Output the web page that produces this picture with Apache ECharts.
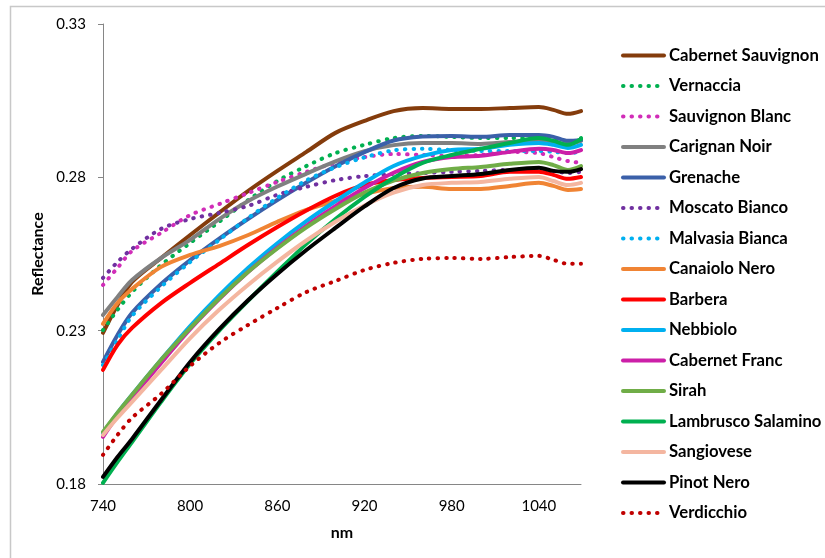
<!DOCTYPE html>
<html>
<head>
<meta charset="utf-8">
<script src="https://cdn.jsdelivr.net/npm/echarts@6/dist/echarts.min.js"></script>
<style>
html,body{margin:0;padding:0;background:#fff;}
#chart{width:825px;height:558px;}
</style>
</head>
<body>
<div id="chart"></div>
<script>
// Wavelength (nm) sample positions
const wavelengths = [740,750,760,780,800,820,840,860,880,900,920,940,960,980,1000,1020,1040,1050,1060,1069];

// Reflectance values
const cabernetSauvignon = [0.2293,0.2384,0.2459,0.2537,0.2612,0.2685,0.2756,0.2821,0.2883,0.2945,0.2984,0.3016,0.3026,0.3023,0.3023,0.3026,0.3029,0.3020,0.3007,0.3016];
const vernaccia        = [0.2302,0.2368,0.2426,0.2514,0.2586,0.2655,0.2726,0.2788,0.2837,0.2879,0.2906,0.2928,0.2935,0.2932,0.2928,0.2928,0.2928,0.2922,0.2915,0.2928];
const sauvignonBlanc   = [0.2449,0.2505,0.2560,0.2619,0.2677,0.2713,0.2749,0.2785,0.2818,0.2847,0.2866,0.2876,0.2873,0.2870,0.2873,0.2883,0.2879,0.2866,0.2853,0.2847];
const carignanNoir     = [0.2351,0.2410,0.2465,0.2537,0.2596,0.2664,0.2723,0.2770,0.2812,0.2852,0.2885,0.2905,0.2912,0.2912,0.2909,0.2915,0.2919,0.2915,0.2909,0.2919];
const grenache         = [0.2198,0.2286,0.2358,0.2452,0.2530,0.2600,0.2665,0.2726,0.2783,0.2836,0.2882,0.2920,0.2933,0.2935,0.2932,0.2938,0.2938,0.2932,0.2919,0.2922];
const moscatoBianco    = [0.2472,0.2524,0.2567,0.2632,0.2664,0.2684,0.2707,0.2743,0.2769,0.2791,0.2804,0.2811,0.2814,0.2818,0.2821,0.2824,0.2824,0.2821,0.2814,0.2818];
const malvasiaBianca   = [0.2188,0.2270,0.2348,0.2443,0.2524,0.2596,0.2668,0.2733,0.2790,0.2833,0.2865,0.2888,0.2893,0.2889,0.2886,0.2886,0.2886,0.2883,0.2879,0.2883];
const canaioloNero     = [0.2322,0.2390,0.2436,0.2508,0.2547,0.2576,0.2612,0.2655,0.2694,0.2723,0.2746,0.2765,0.2769,0.2762,0.2762,0.2772,0.2782,0.2772,0.2759,0.2762];
const barbera          = [0.2172,0.2254,0.2309,0.2390,0.2456,0.2518,0.2580,0.2638,0.2692,0.2740,0.2775,0.2791,0.2798,0.2801,0.2804,0.2818,0.2818,0.2808,0.2795,0.2801];
const nebbiolo         = [0.1967,0.2032,0.2091,0.2205,0.2315,0.2415,0.2505,0.2585,0.2657,0.2722,0.2783,0.2837,0.2870,0.2889,0.2893,0.2906,0.2912,0.2906,0.2896,0.2906];
const cabernetFranc    = [0.1954,0.2022,0.2081,0.2195,0.2305,0.2403,0.2492,0.2571,0.2642,0.2706,0.2765,0.2815,0.2850,0.2866,0.2870,0.2883,0.2893,0.2889,0.2879,0.2889];
const sirah            = [0.1970,0.2032,0.2091,0.2205,0.2308,0.2405,0.2492,0.2568,0.2637,0.2697,0.2750,0.2789,0.2814,0.2827,0.2834,0.2844,0.2850,0.2840,0.2824,0.2837];
const lambruscoSalamino= [0.1804,0.1872,0.1937,0.2068,0.2192,0.2300,0.2398,0.2492,0.2583,0.2664,0.2736,0.2798,0.2847,0.2873,0.2893,0.2912,0.2928,0.2919,0.2906,0.2925];
const sangiovese       = [0.1960,0.2016,0.2068,0.2172,0.2276,0.2368,0.2450,0.2525,0.2594,0.2655,0.2708,0.2750,0.2775,0.2782,0.2785,0.2795,0.2801,0.2788,0.2775,0.2782];
const pinotNero        = [0.1823,0.1888,0.1947,0.2074,0.2198,0.2305,0.2400,0.2485,0.2563,0.2635,0.2705,0.2765,0.2796,0.2804,0.2811,0.2824,0.2831,0.2821,0.2818,0.2827];
const verdicchio       = [0.1895,0.1960,0.2016,0.2094,0.2185,0.2260,0.2319,0.2374,0.2426,0.2462,0.2498,0.2521,0.2534,0.2537,0.2534,0.2540,0.2544,0.2531,0.2518,0.2518];

const seriesNames = ['Cabernet Sauvignon','Vernaccia','Sauvignon Blanc','Carignan Noir','Grenache','Moscato Bianco','Malvasia Bianca','Canaiolo Nero','Barbera','Nebbiolo','Cabernet Franc','Sirah','Lambrusco Salamino','Sangiovese','Pinot Nero','Verdicchio'];
const seriesValues = [cabernetSauvignon,vernaccia,sauvignonBlanc,carignanNoir,grenache,moscatoBianco,malvasiaBianca,canaioloNero,barbera,nebbiolo,cabernetFranc,sirah,lambruscoSalamino,sangiovese,pinotNero,verdicchio];
const seriesColors = ['#843C0C','#00B050','#D12DB8','#808080','#3B60A9','#7030A0','#00B0F0','#F08434','#FF0000','#00B0F0','#CC1FA8','#70AD47','#00B050','#F4B6A0','#000000','#C00000'];
const seriesDotted = [false,true,true,false,false,true,true,false,false,false,false,false,false,false,false,true];

const yTicks = [0.18, 0.23, 0.28, 0.33];
const xTickStep = 60;

const FONT = 'Lato, "Open Sans", sans-serif';

const series = seriesNames.map((name, i) => ({
  name: name,
  type: 'line',
  smooth: 0.3,
  symbol: 'none',
  showSymbol: false,
  color: seriesColors[i],
  lineStyle: {
    color: seriesColors[i],
    width: 4,
    type: seriesDotted[i] ? [0.5, 8] : 'solid',
    cap: 'round',
    join: 'round'
  },
  data: wavelengths.map((w, k) => [w, seriesValues[i][k]])
}));

const chart = echarts.init(document.getElementById('chart'), null, {renderer: 'canvas'});
chart.setOption({
  animation: false,
  backgroundColor: '#ffffff',
  graphic: [{
    type: 'rect',
    shape: {x: 10.5, y: 6.5, width: 830, height: 570},
    style: {fill: 'none', stroke: '#C8C8C8', lineWidth: 1.5},
    silent: true,
    z: -10
  }],
  grid: {left: 103, right: 244, top: 24, bottom: 74, containLabel: false},
  xAxis: {
    type: 'value',
    min: wavelengths[0],
    max: wavelengths[wavelengths.length - 1],
    interval: xTickStep,
    name: 'nm',
    nameLocation: 'middle',
    nameGap: 41,
    nameTextStyle: {fontFamily: FONT, fontWeight: 'bold', fontSize: 16, color: '#000'},
    axisLine: {show: true, lineStyle: {color: '#868686', width: 1}},
    axisTick: {show: false},
    splitLine: {show: false},
    axisLabel: {fontFamily: FONT, fontSize: 15, color: '#000', margin: 15, showMaxLabel: false,
      formatter: v => String(v)}
  },
  yAxis: {
    type: 'value',
    min: yTicks[0],
    max: yTicks[yTicks.length - 1],
    interval: 0.05,
    name: 'Reflectance',
    nameLocation: 'middle',
    nameRotate: 90,
    nameGap: 56,
    nameTextStyle: {fontFamily: FONT, fontWeight: 'bold', fontSize: 16, color: '#000'},
    axisLine: {show: true, lineStyle: {color: '#868686', width: 1}},
    axisTick: {show: true, inside: false, length: 5, lineStyle: {color: '#868686'}},
    splitLine: {show: false},
    axisLabel: {fontFamily: FONT, fontSize: 15, color: '#000', margin: 17,
      formatter: v => v.toFixed(2)}
  },
  legend: {
    orient: 'vertical',
    left: 621,
    top: 47,
    padding: 0,
    itemWidth: 41,
    itemHeight: 16,
    itemGap: 13.5,
    itemStyle: {opacity: 0},
    lineStyle: {width: 4},
    textStyle: {fontFamily: FONT, fontWeight: 'bold', fontSize: 16.7, lineHeight: 17, color: '#000'},
    data: seriesNames
  },
  series: series
});
</script>
</body>
</html>
